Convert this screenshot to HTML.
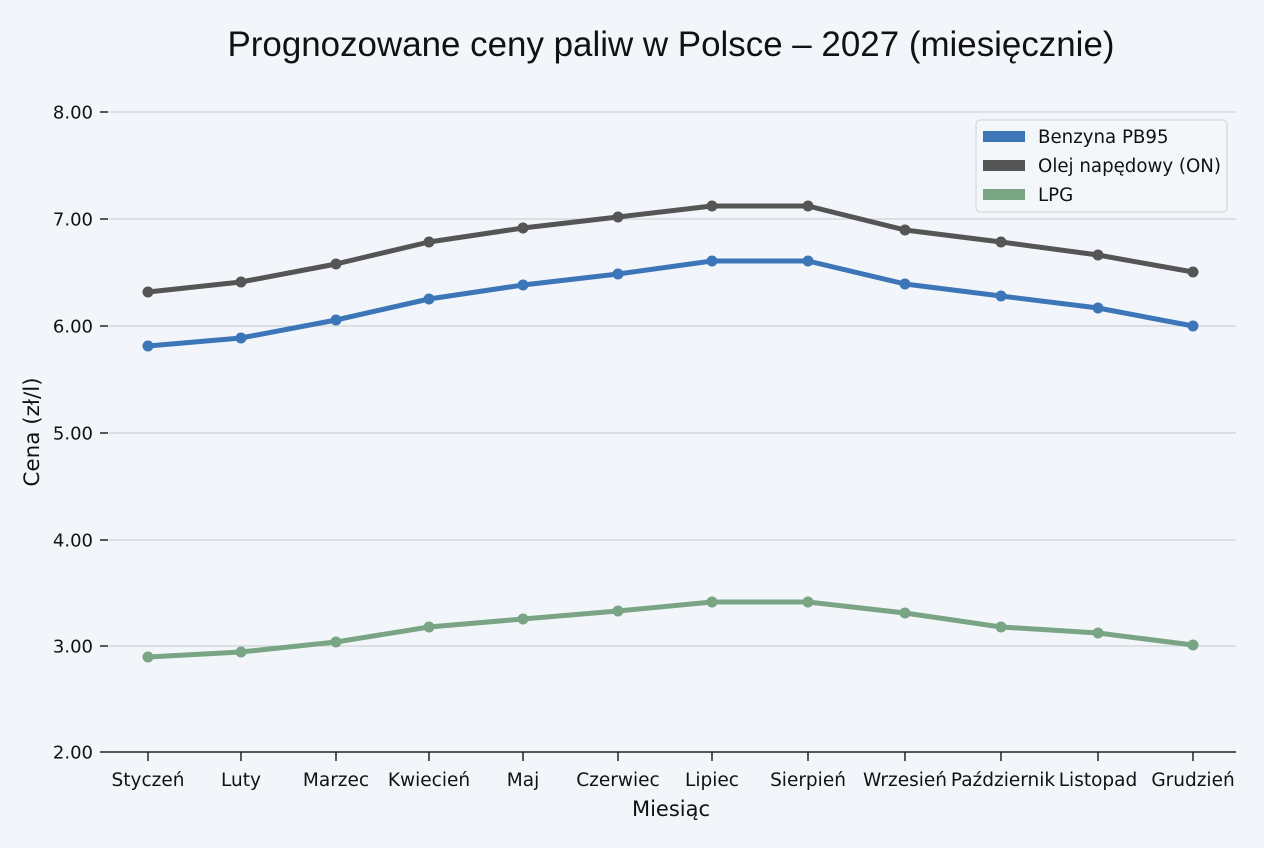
<!DOCTYPE html>
<html><head><meta charset="utf-8"><style>
html,body{margin:0;padding:0;background:#f2f6fa;}
svg{display:block;}
text{font-family:"DejaVu Sans","Liberation Sans",sans-serif;fill:#111;}
</style></head><body>
<svg width="1264" height="848" viewBox="0 0 1264 848" xmlns="http://www.w3.org/2000/svg">
<rect width="1264" height="848" fill="#f2f6fa"/>
<text x="671" y="56" text-anchor="middle" style="font-family:'Liberation Sans',sans-serif;font-size:35px" textLength="887" lengthAdjust="spacingAndGlyphs">Prognozowane ceny paliw w Polsce – 2027 (miesięcznie)</text>
<g stroke="#cfd4d8" stroke-width="1.3">
<line x1="109" y1="112" x2="1236" y2="112"/>
<line x1="109" y1="219" x2="1236" y2="219"/>
<line x1="109" y1="326" x2="1236" y2="326"/>
<line x1="109" y1="433" x2="1236" y2="433"/>
<line x1="109" y1="540" x2="1236" y2="540"/>
<line x1="109" y1="646" x2="1236" y2="646"/>
</g>
<g stroke="#222" stroke-width="1.5">
<line x1="100" y1="752" x2="1236" y2="752"/>
<line x1="100" y1="112" x2="108" y2="112"/>
<line x1="100" y1="219" x2="108" y2="219"/>
<line x1="100" y1="326" x2="108" y2="326"/>
<line x1="100" y1="433" x2="108" y2="433"/>
<line x1="100" y1="540" x2="108" y2="540"/>
<line x1="100" y1="646" x2="108" y2="646"/>
<line x1="148" y1="752" x2="148" y2="761"/>
<line x1="241" y1="752" x2="241" y2="761"/>
<line x1="336" y1="752" x2="336" y2="761"/>
<line x1="429" y1="752" x2="429" y2="761"/>
<line x1="523" y1="752" x2="523" y2="761"/>
<line x1="618" y1="752" x2="618" y2="761"/>
<line x1="712" y1="752" x2="712" y2="761"/>
<line x1="808" y1="752" x2="808" y2="761"/>
<line x1="905" y1="752" x2="905" y2="761"/>
<line x1="1001" y1="752" x2="1001" y2="761"/>
<line x1="1098" y1="752" x2="1098" y2="761"/>
<line x1="1193" y1="752" x2="1193" y2="761"/>
</g>
<g font-size="18" text-anchor="end">
<text x="93" y="118.5">8.00</text>
<text x="93" y="225.5">7.00</text>
<text x="93" y="332.5">6.00</text>
<text x="93" y="439.5">5.00</text>
<text x="93" y="546.5">4.00</text>
<text x="93" y="652.5">3.00</text>
<text x="93" y="758.5">2.00</text>
</g>
<g font-size="18.5" text-anchor="middle">
<text x="148" y="786">Styczeń</text>
<text x="241" y="786">Luty</text>
<text x="336" y="786">Marzec</text>
<text x="429" y="786">Kwiecień</text>
<text x="523" y="786">Maj</text>
<text x="618" y="786">Czerwiec</text>
<text x="712" y="786">Lipiec</text>
<text x="808" y="786">Sierpień</text>
<text x="905" y="786">Wrzesień</text>
<text x="1003" y="786">Październik</text>
<text x="1098" y="786">Listopad</text>
<text x="1193" y="786">Grudzień</text>
</g>
<text x="671" y="816" font-size="21" text-anchor="middle">Miesiąc</text>
<text transform="translate(39,432) rotate(-90)" font-size="21.5" text-anchor="middle">Cena (zł/l)</text>

<g fill="none" stroke-width="5" stroke-linejoin="round" stroke-linecap="round">
<polyline stroke="#555555" points="148,292 241,282 336,264 429,242 523,228 618,217 712,206 808,206 905,230 1001,242 1098,255 1193,272"/>
<polyline stroke="#3d76b8" points="148,346 241,338 336,320 429,299 523,285 618,274 712,261 808,261 905,284 1001,296 1098,308 1193,326"/>
<polyline stroke="#7aa584" points="148,657 241,652 336,642 429,627 523,619 618,611 712,602 808,602 905,613 1001,627 1098,633 1193,645"/>
</g>
<g fill="#555555">
<circle cx="148" cy="292" r="5.5"/><circle cx="241" cy="282" r="5.5"/><circle cx="336" cy="264" r="5.5"/><circle cx="429" cy="242" r="5.5"/><circle cx="523" cy="228" r="5.5"/><circle cx="618" cy="217" r="5.5"/><circle cx="712" cy="206" r="5.5"/><circle cx="808" cy="206" r="5.5"/><circle cx="905" cy="230" r="5.5"/><circle cx="1001" cy="242" r="5.5"/><circle cx="1098" cy="255" r="5.5"/><circle cx="1193" cy="272" r="5.5"/>
</g>
<g fill="#3d76b8">
<circle cx="148" cy="346" r="5.5"/><circle cx="241" cy="338" r="5.5"/><circle cx="336" cy="320" r="5.5"/><circle cx="429" cy="299" r="5.5"/><circle cx="523" cy="285" r="5.5"/><circle cx="618" cy="274" r="5.5"/><circle cx="712" cy="261" r="5.5"/><circle cx="808" cy="261" r="5.5"/><circle cx="905" cy="284" r="5.5"/><circle cx="1001" cy="296" r="5.5"/><circle cx="1098" cy="308" r="5.5"/><circle cx="1193" cy="326" r="5.5"/>
</g>
<g fill="#7aa584">
<circle cx="148" cy="657" r="5.5"/><circle cx="241" cy="652" r="5.5"/><circle cx="336" cy="642" r="5.5"/><circle cx="429" cy="627" r="5.5"/><circle cx="523" cy="619" r="5.5"/><circle cx="618" cy="611" r="5.5"/><circle cx="712" cy="602" r="5.5"/><circle cx="808" cy="602" r="5.5"/><circle cx="905" cy="613" r="5.5"/><circle cx="1001" cy="627" r="5.5"/><circle cx="1098" cy="633" r="5.5"/><circle cx="1193" cy="645" r="5.5"/>
</g>

<rect x="976" y="120" width="251" height="92" rx="4" fill="#f4f7fa" stroke="#d3d8dc" stroke-width="1.2"/>
<rect x="983" y="131" width="42" height="11" fill="#3d76b8"/>
<rect x="983" y="160" width="42" height="11" fill="#555555"/>
<rect x="983" y="189" width="42" height="11" fill="#7aa584"/>
<g font-size="18.2">
<text x="1038" y="143">Benzyna PB95</text>
<text x="1038" y="172">Olej napędowy (ON)</text>
<text x="1038" y="201">LPG</text>
</g>
</svg>
</body></html>
